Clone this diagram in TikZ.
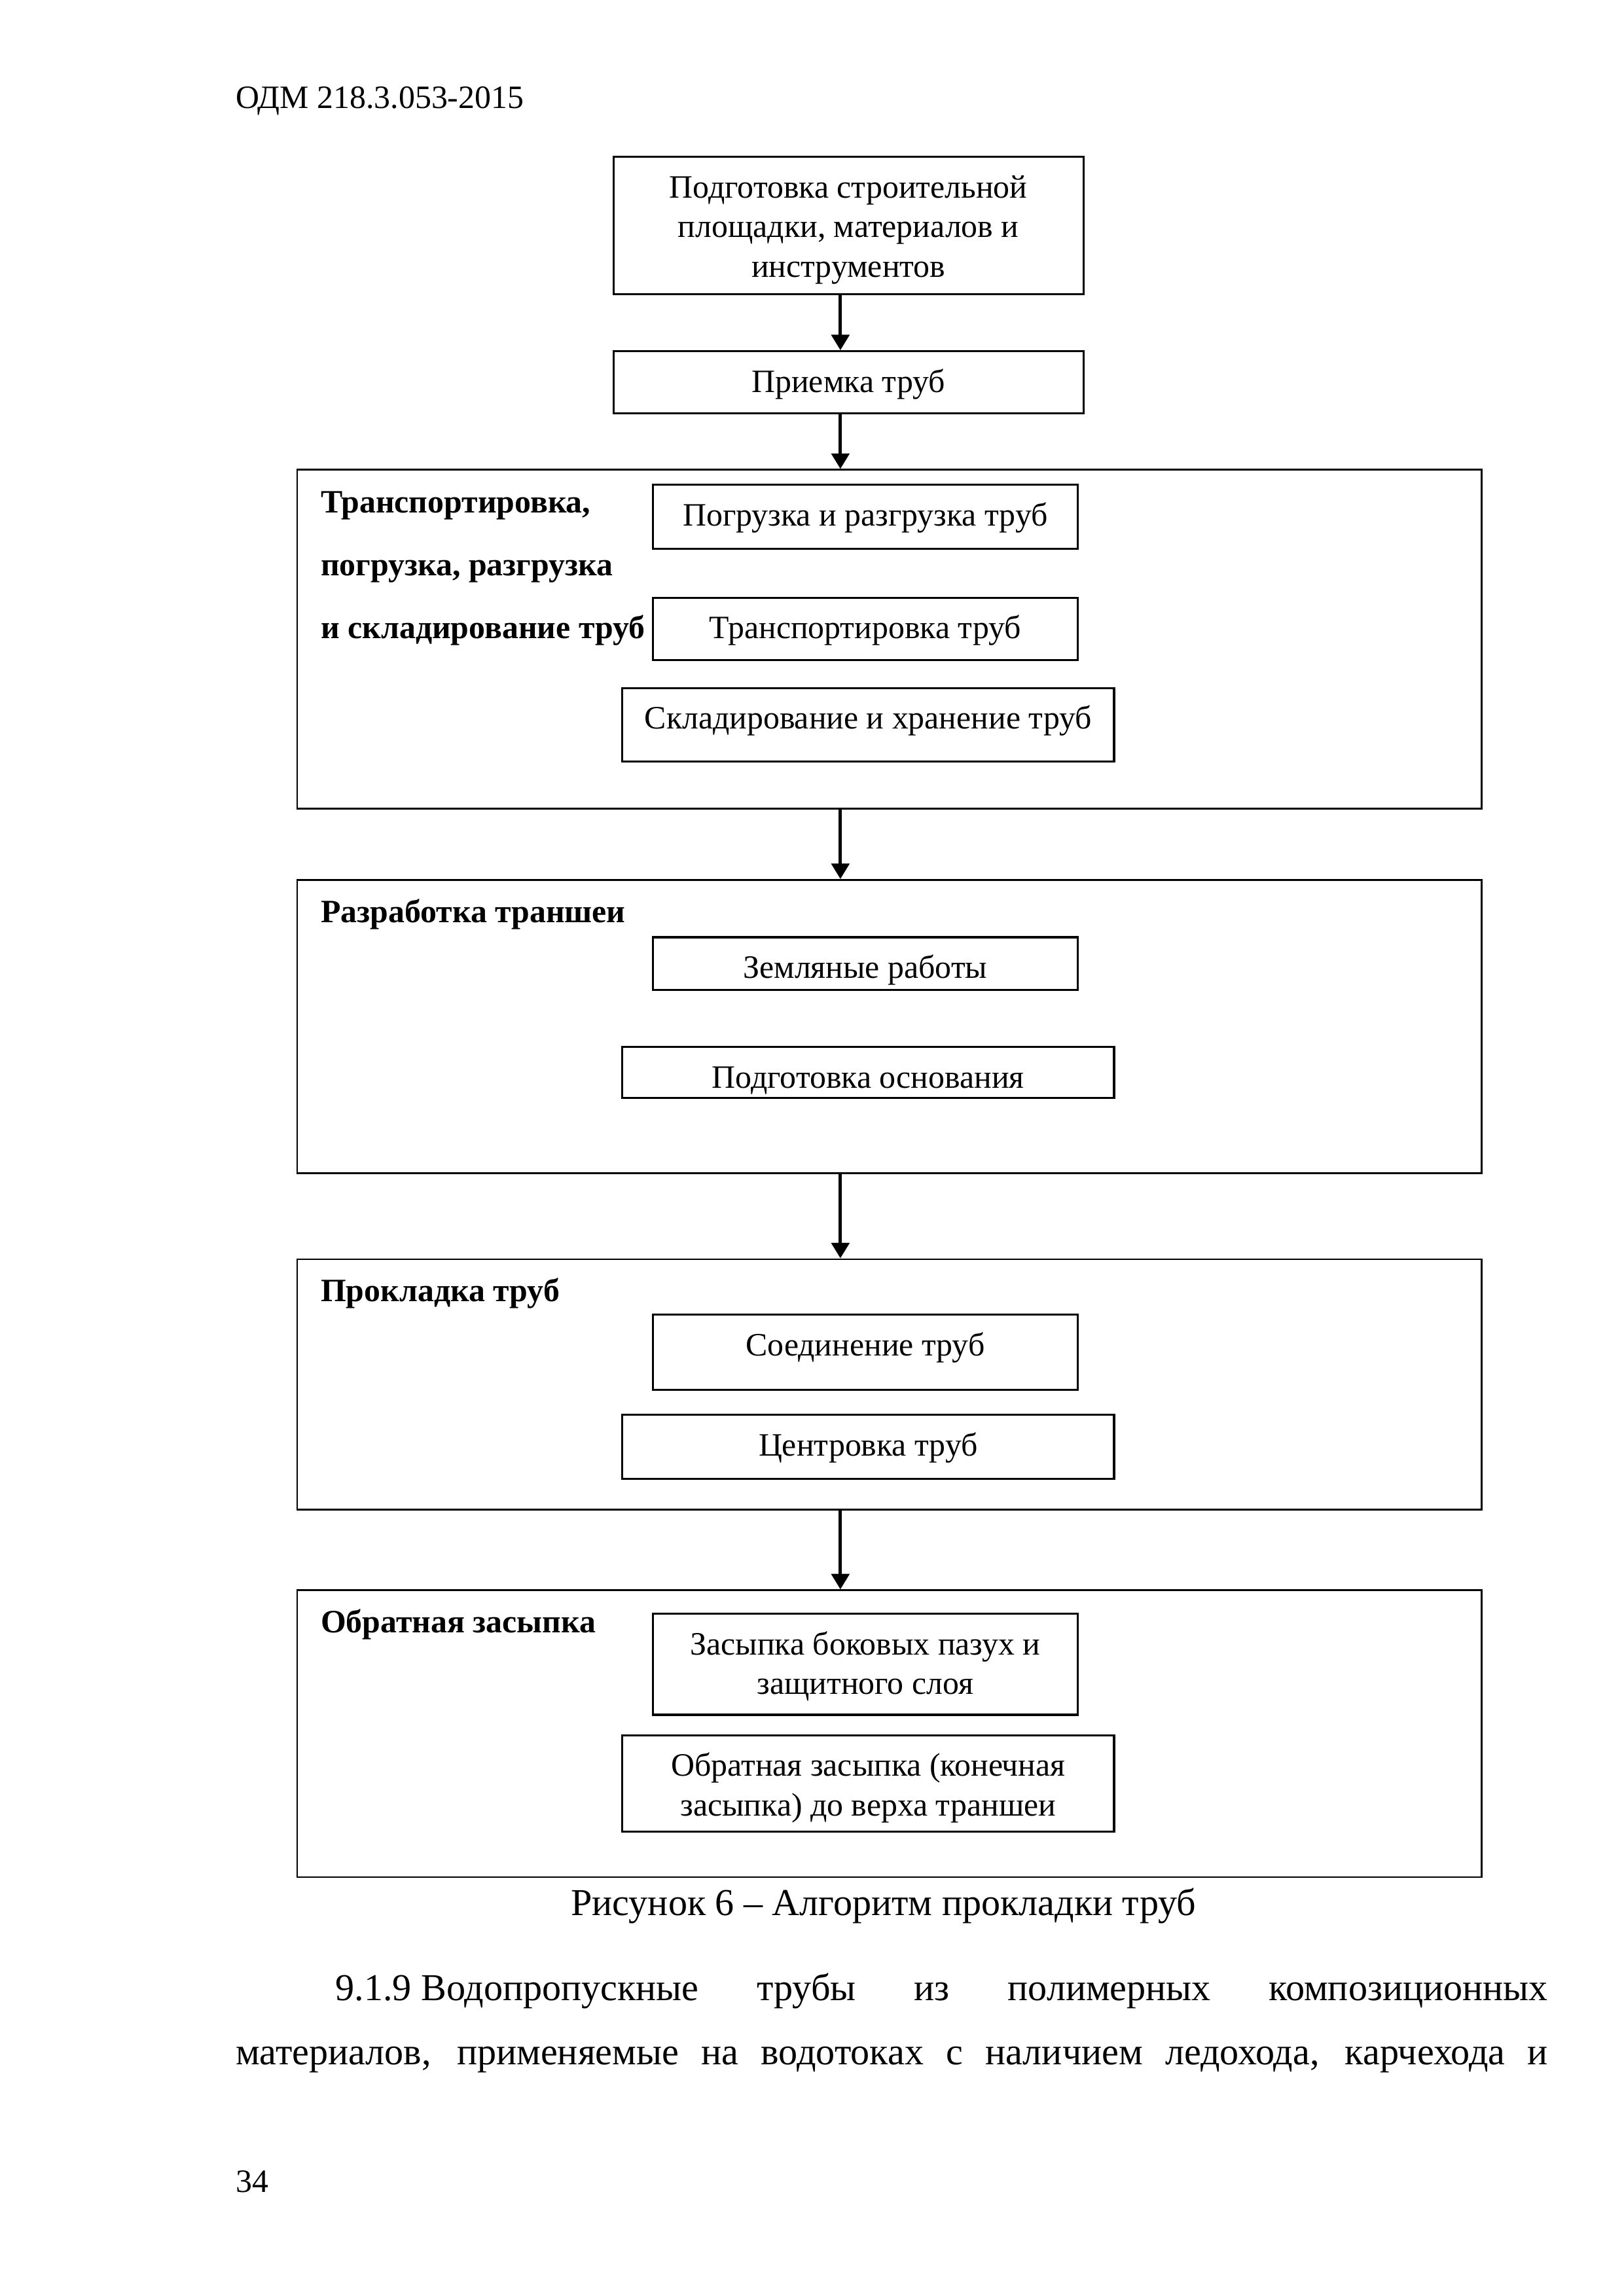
\documentclass[tikz,border=0pt]{standalone}
\usepackage{fontspec}
\setmainfont{Liberation Serif}
\usepackage{tikz}
\usetikzlibrary{positioning}
\usetikzlibrary{arrows.meta}
\newcommand{\boxtop}{\rule{0pt}{5.3mm}}

\begin{document}
\begin{tikzpicture}[x=0.18936mm,y=-0.18941mm,->,>={Triangle[length=2.0mm,width=2.3mm]},
                    line width=1.25pt]
\tikzstyle{every node}=[inner sep=0pt]
% text sits at the top of each box: 5.3mm down to the first baseline, \taskpad below the last one
\tikzstyle{taskbox}=[draw=black,line width=0.75pt,align=center,font=\fontsize{12pt}{14.6pt}\selectfont,
                     execute at begin node={\boxtop},execute at end node={\rule[-\taskpad]{0pt}{0pt}}]
\tikzstyle{narrowbox}=[taskbox,minimum width=54.9mm]
\tikzstyle{widebox}=[taskbox,minimum width=63.6mm]
\tikzstyle{stagebox}=[draw=black,line width=0.7pt,minimum width=153.2mm]
\tikzstyle{stagetitle}=[anchor=base west,font=\fontsize{12pt}{14.6pt}\selectfont\bfseries]
\tikzstyle{pagetext}=[anchor=base west,font=\fontsize{14pt}{16.8pt}\selectfont]
\def\taskpad{2mm}

        \useasboundingbox (0,0) rectangle (1109,1568);

        \node[anchor=base west,font=\fontsize{12pt}{14pt}\selectfont] (head) at (160,74) {ОДМ 218.3.053-2015};

        \def\taskpad{2.2mm}
        \node[taskbox,minimum width=60.8mm,minimum height=17.8mm]   (prep)   at (579.5,154) {\boxtop Подготовка строительной\\площадки, материалов и\\инструментов};
        \def\taskpad{2.7mm}
        \node[taskbox,minimum width=60.8mm,minimum height=8.0mm]    (accept) at (579.5,261) {Приемка труб};

        % Транспортировка
        \node[stagebox,minimum height=43.8mm]  (transp)    at (607.5,436.5) {};
        \node[stagetitle]                      (transp t1) at (218,350) {Транспортировка,};
        \node[stagetitle]                      (transp t2) at (218,393) {погрузка, разгрузка};
        \node[stagetitle]                      (transp t3) at (218,436) {и складирование труб};
        \def\taskpad{3.0mm}
        \node[narrowbox,minimum height=8.3mm]  (load)      at (591,353)   {Погрузка и разгрузка труб};
        \def\taskpad{2.8mm}
        \node[narrowbox,minimum height=8.1mm]  (carry)     at (591,429.5) {Транспортировка труб};
        \def\taskpad{4.2mm}
        \node[widebox,minimum height=9.5mm]    (store)     at (593,495)   {Складирование и хранение труб};

        % Траншея
        \node[stagebox,minimum height=37.9mm]  (trench)    at (607.5,701) {};
        \node[stagetitle]                      (trench t)  at (218,630) {Разработка траншеи};
        \def\taskpad{1.5mm}
        \node[narrowbox,minimum height=6.8mm]  (earth)     at (591,658)   {Земляные работы};
        \def\taskpad{1.3mm}
        \node[widebox,minimum height=6.6mm]    (base)      at (593,732.5) {Подготовка основания};

        % Прокладка
        \node[stagebox,minimum height=32.4mm]  (laying)    at (607.5,945.5) {};
        \node[stagetitle]                      (laying t)  at (218,889) {Прокладка труб};
        \def\taskpad{4.4mm}
        \node[narrowbox,minimum height=9.7mm]  (joint)     at (591,923.5) {Соединение труб};
        \def\taskpad{3.0mm}
        \node[widebox,minimum height=8.3mm]    (center)    at (593,988)   {Центровка труб};

        % Засыпка
        \node[stagebox,minimum height=37.1mm]  (backfill)  at (607.5,1184) {};
        \node[stagetitle]                      (backfill t) at (218,1115) {Обратная засыпка};
        \def\taskpad{2.65mm}
        \node[narrowbox,minimum height=13.1mm] (sides)     at (591,1136.5) {\boxtop Засыпка боковых пазух и\\защитного слоя};
        \def\taskpad{2.05mm}
        \node[widebox,minimum height=12.5mm]   (final)     at (593,1218)   {\boxtop Обратная засыпка (конечная\\засыпка) до верха траншеи};

        \coordinate (ax) at (574,0);
        \path[->]
        (prep.south -| ax)     edge (accept.north -| ax)
        (accept.south -| ax)   edge (transp.north -| ax)
        (transp.south -| ax)   edge (trench.north -| ax)
        (trench.south -| ax)   edge (laying.north -| ax)
        (laying.south -| ax)   edge (backfill.north -| ax)
        ; %end path

        \node[anchor=base,font=\fontsize{14pt}{16.8pt}\selectfont] (caption) at (603.5,1308) {Рисунок 6 – Алгоритм прокладки труб};
        \node[pagetext] (par1) at (228,1366) {\makebox[156.8mm][s]{\mbox{9.1.9 Водопропускные} трубы из полимерных композиционных}};
        \node[pagetext] (par2) at (160,1410) {\makebox[169.7mm][s]{материалов, применяемые на водотоках с наличием ледохода, карчехода и}};
        \node[anchor=base west,font=\fontsize{12pt}{14pt}\selectfont] (pagenum) at (160,1497) {34};

\end{tikzpicture}
\end{document}
